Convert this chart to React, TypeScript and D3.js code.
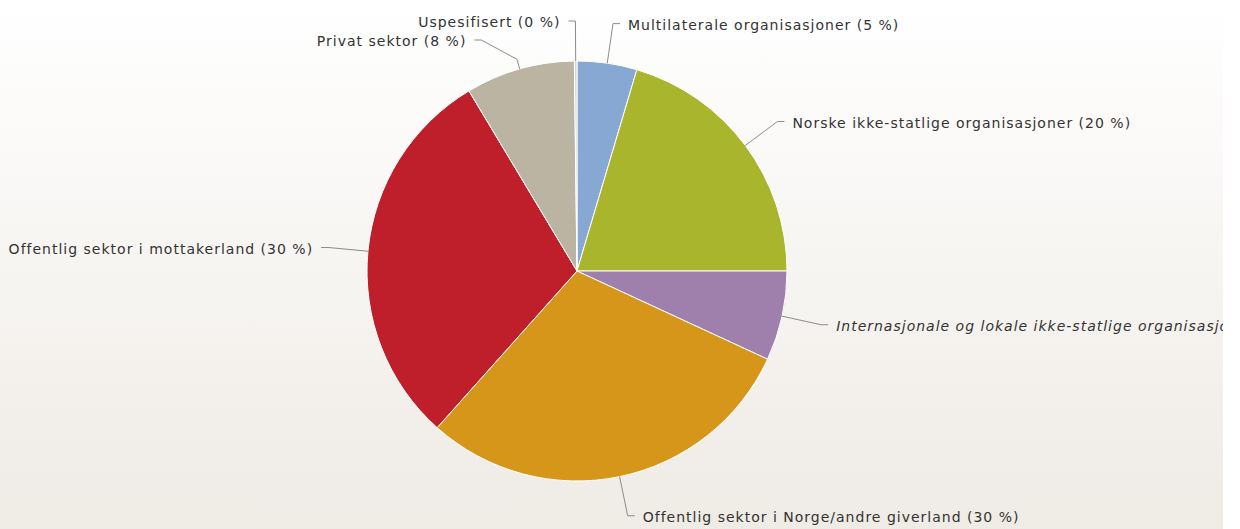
import React from "react";
import * as d3 from "d3";

const categories = [
  "Multilaterale organisasjoner",
  "Norske ikke-statlige organisasjoner",
  "Internasjonale og lokale ikke-statlige organisasjoner",
  "Offentlig sektor i Norge/andre giverland",
  "Offentlig sektor i mottakerland",
  "Privat sektor",
  "Uspesifisert",
];
const shares = [4.6, 20.4, 6.9, 29.7, 29.8, 8.4, 0.2];
const colors = ["#88a8d4", "#a9b52d", "#9f80ad", "#d6961a", "#bf1f2b", "#bcb4a3", "#d4d4d4"];
const italicLabel = [false, false, true, false, false, false, false];

const W = 1240;
const H = 529;
const CX = 577;
const CY = 271;
const R = 210;
const DIST = 40;
const GAP = 19;

export default function App() {
  const pie = d3
    .pie<number>()
    .sort(null)
    .value((d) => d)
    .startAngle(0)
    .endAngle(2 * Math.PI);
  const arcs = pie(shares);
  const arc = d3.arc<d3.PieArcDatum<number>>().innerRadius(0).outerRadius(R);
  const total = d3.sum(shares);

  const RL = R + DIST;
  const items = arcs.map((a, i) => {
    const mid = (a.startAngle + a.endAngle) / 2;
    const left = Math.sin(mid) < 0;
    const y = CY - RL * Math.cos(mid);
    return { i, a, mid, left, y };
  });
  [true, false].forEach((side) => {
    const s = items.filter((d) => d.left === side).sort((p, q) => p.y - q.y);
    for (let k = 1; k < s.length; k++) {
      if (s[k].y < s[k - 1].y + GAP) s[k].y = s[k - 1].y + GAP;
    }
  });
  const getX = (y: number, left: boolean) => {
    const dy = Math.max(-RL, Math.min(RL, y - CY));
    const dx = Math.sqrt(RL * RL - dy * dy);
    return CX + (left ? -dx : dx);
  };

  return (
    <svg
      width={W}
      height={H}
      style={{ position: "absolute", left: 0, top: 0, display: "block" }}
      fontFamily="'DejaVu Sans', sans-serif"
    >
      <defs>
        <linearGradient id="bg" x1="0" y1="0" x2="0" y2="1">
          <stop offset="0" stopColor="#ffffff" />
          <stop offset="1" stopColor="#efebe5" />
        </linearGradient>
        <clipPath id="clip">
          <rect x={0} y={0} width={1223} height={H} />
        </clipPath>
      </defs>
      <rect x={0} y={0} width={W} height={H} fill="#ffffff" />
      <g clipPath="url(#clip)">
        <rect x={0} y={0} width={1223} height={H} fill="url(#bg)" />
        <g transform={`translate(${CX},${CY})`}>
          {arcs.map((a, i) => (
            <path key={i} d={arc(a) || ""} fill={colors[i]} stroke="#ffffff" strokeWidth={1} />
          ))}
        </g>
        {items.map((it) => {
          const { i, mid, left, y } = it;
          const x = getX(y, left);
          const sgn = left ? -1 : 1;
          const lx = CX + R * Math.sin(mid);
          const ly = CY - R * Math.cos(mid);
          const bx = CX + (R + 10) * Math.sin(mid);
          const by = CY - (R + 10) * Math.cos(mid);
          const pct = Math.round((shares[i] / total) * 100);
          const path = `M${x + sgn * 7},${y}L${x},${y}L${bx},${by}L${lx},${ly}`;
          return (
            <g key={i}>
              <path d={path} fill="none" stroke="#8c8c8c" strokeWidth={1} />
              <text
                x={x + sgn * 15}
                y={y + 1.5}
                dy="0.35em"
                textAnchor={left ? "end" : "start"}
                fontSize={14}
                letterSpacing={1}
                fill="#333333"
                fontStyle={italicLabel[i] ? "italic" : "normal"}
              >
                {`${categories[i]} (${pct} %)`}
              </text>
            </g>
          );
        })}
      </g>
    </svg>
  );
}
